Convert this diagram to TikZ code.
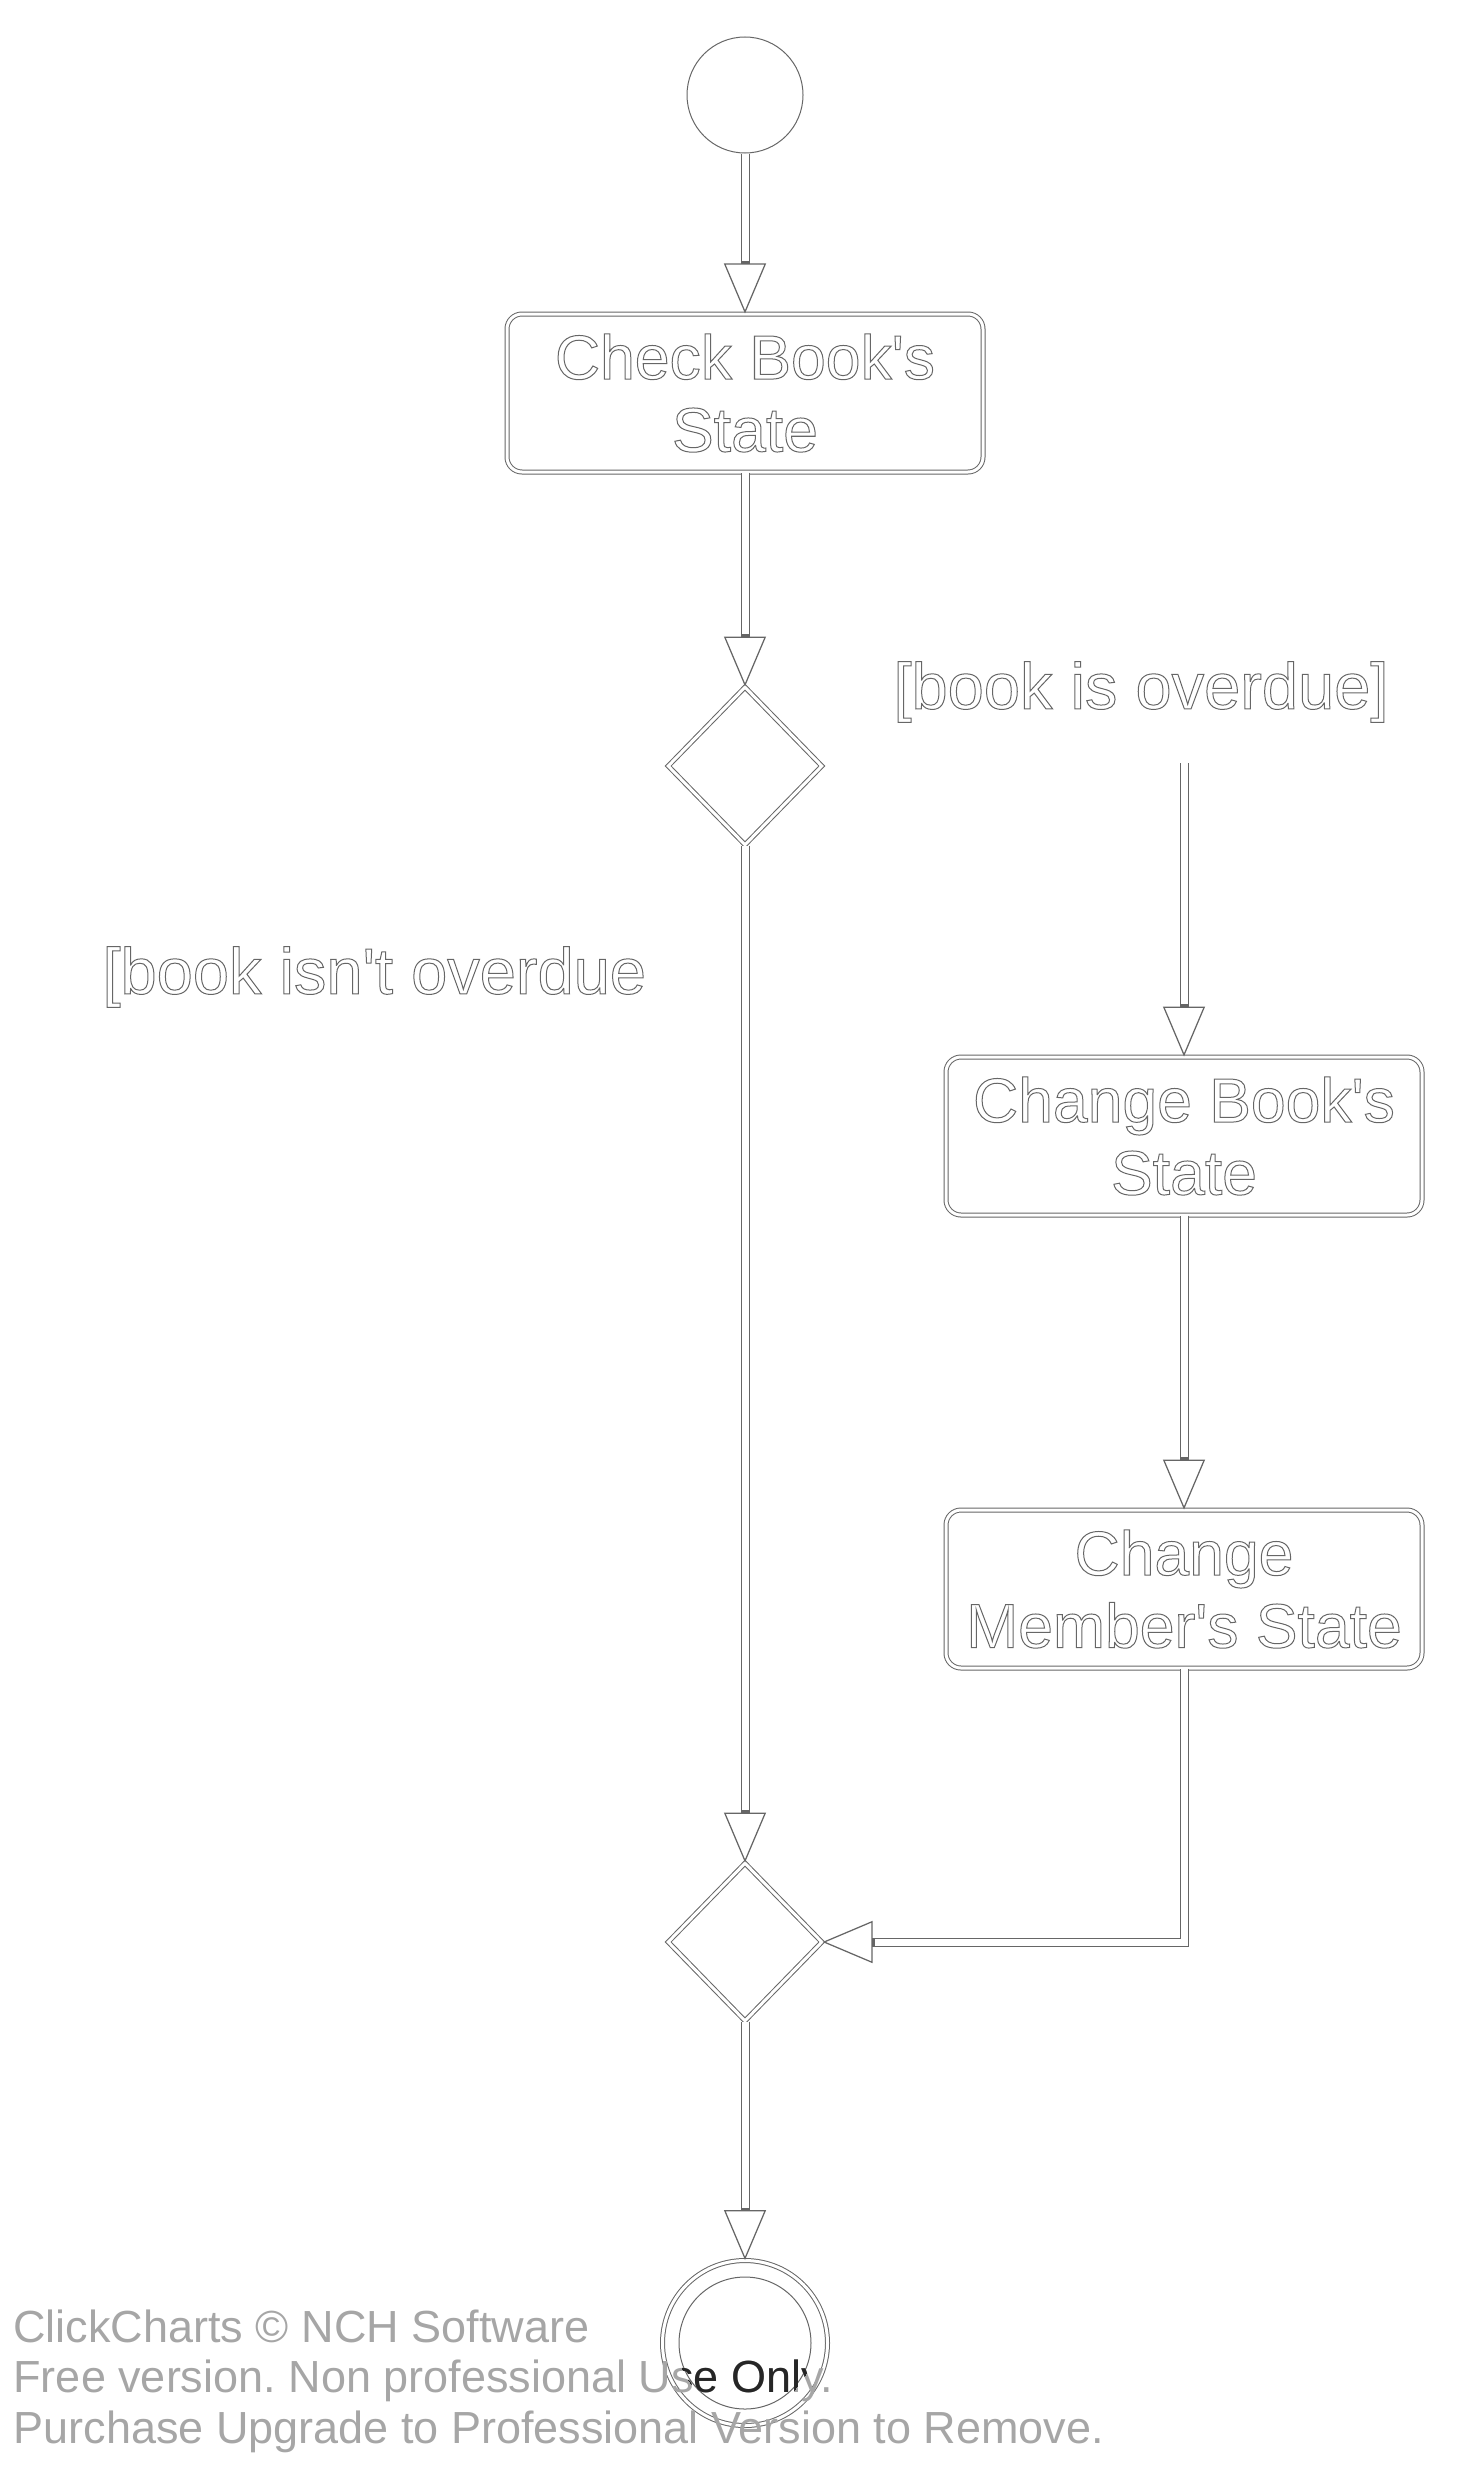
\documentclass[tikz,border=0pt]{standalone}
\usepackage{fontspec}
\setmainfont{Liberation Sans}
\usepackage{xcolor}
\usetikzlibrary{arrows.meta,shapes.geometric}
\frenchspacing

% outlined (stroked) glyphs
\newcommand{\outl}{\special{pdf:literal direct 1 Tr 0.4 w}}
\newcommand{\unoutl}{\special{pdf:literal direct 0 Tr}}
\newcommand{\q}{\textquotesingle}

\begin{document}
\begin{tikzpicture}[x=0.4pt,y=-0.4pt]
        \tikzset{
            activity/.style={draw=black!60, double, double distance=1.2pt, line width=0.4pt,
                rounded corners=6pt, minimum width=190.4pt, minimum height=63.2pt, align=center,
                text=black!60, font=\fontsize{25pt}{29pt}\selectfont\outl, execute at end node=\unoutl},
            branch/.style={diamond, draw=black!60, double, double distance=1.2pt, line width=0.4pt,
                minimum width=61.6pt, minimum height=63.2pt, inner sep=0pt},
            guard/.style={text=black!60, inner sep=0pt,
                font=\fontsize{26pt}{30pt}\selectfont\outl, execute at end node=\unoutl},
            startnode/.style={circle, draw=black!60, line width=0.4pt, minimum size=46.4pt, inner sep=0pt},
            endnode/.style={circle, draw=black!60, double, double distance=1.2pt, line width=0.4pt,
                minimum size=66pt, inner sep=0pt},
            link/.style={draw=black!60, line width=3.6pt,
                -{Triangle[length=20pt 0, width=16.8pt 0, line width=0.5pt 0, fill=white]},
                postaction={draw=white, line width=2.8pt, arrows=-, shorten >=21pt}},
            stamp/.style={anchor=base west, inner sep=0pt, text=black!35, font=\fontsize{18pt}{20pt}\selectfont}
        }
        \useasboundingbox (0,0) rectangle (1458,2465);

        % middle row
        \node[startnode] (init) at (745,95) {};
        \node[activity] (check) at (745,393) {Check Book\q s\\State};
        \node[branch] (dec1) at (745,766) {};
        \node[branch] (dec2) at (745,1942) {};
        \node[endnode] (fin) at (745,2343) {};
        \draw[black!60, line width=0.4pt] (fin.center) circle[radius=66];

        % guards
        \node[guard] (yes) at (1141,692) {[book is overdue]};
        \node[guard, anchor=west] (no) at (102,977) {[book isn\q t overdue};

        % right row
        \coordinate (top) at (1184,763);
        \node[activity] (cbook) at (1184,1136) {Change Book\q s\\State};
        \node[activity] (cmem) at (1184,1589) {Change\\Member\q s State};

        % lines
        \draw[link] (init) -- (check);
        \draw[link] (check) -- (dec1);
        \draw[link] (dec1) -- (dec2);
        \draw[link] (top) -- (cbook);
        \draw[link] (cbook) -- (cmem);
        \draw[link] (cmem.south) |- (dec2.east);
        \draw[link] (dec2) -- (fin);

        % watermark
        \foreach \txt [count=\i] in {ClickCharts © NCH Software, Free version. Non professional Use Only., Purchase Upgrade to Professional Version to Remove.}
            \node[stamp] (wm\i) at (13,2291.5+50.5*\i) {\txt};
        \begin{scope}
            \clip (fin.center) circle[radius=68];
            \foreach \txt [count=\i] in {ClickCharts © NCH Software, Free version. Non professional Use Only., Purchase Upgrade to Professional Version to Remove.}
                \node[stamp, text=black!85] (wmd\i) at (13,2291.5+50.5*\i) {\txt};
        \end{scope}
\end{tikzpicture}
\end{document}
